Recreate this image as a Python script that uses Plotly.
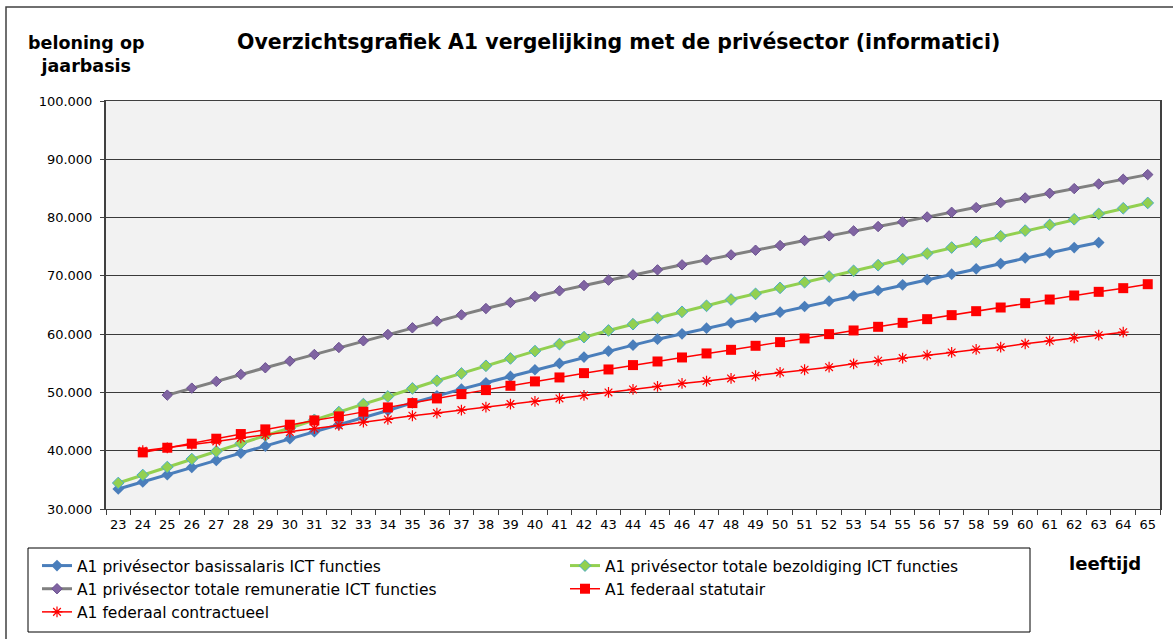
import plotly.graph_objects as go

# leeftijd (age) categories on the x-axis
ages = [str(a) for a in range(23, 66)]

# yearly pay, per series (None = no point at that age)
basissalaris = [33430, 34630, 35890, 37140, 38340, 39600, 40800, 42060, 43260,
                44500, 45700, 46900, 48200, 49430, 50570, 51660, 52740, 53890,
                54970, 56060, 57090, 58110, 59140, 60060, 61030, 61940, 62910,
                63770, 64740, 65660, 66570, 67490, 68460, 69370, 70290, 71200,
                72110, 73090, 73940, 74860, 75710, None, None]

bezoldiging = [34460, 35830, 37200, 38570, 39890, 41260, 42600, 43900, 45300,
               46630, 48000, 49310, 50690, 52000, 53260, 54570, 55830, 57090,
               58290, 59490, 60630, 61710, 62800, 63830, 64860, 65940, 66910,
               67940, 68910, 69890, 70860, 71830, 72860, 73830, 74860, 75830,
               76800, 77770, 78740, 79710, 80630, 81600, 82510]

remuneratie = [None, None, 49540, 50740, 51890, 53090, 54230, 55370, 56510,
               57710, 58860, 59940, 61090, 62230, 63310, 64400, 65430, 66460,
               67430, 68340, 69260, 70170, 71030, 71890, 72740, 73600, 74400,
               75200, 76060, 76860, 77710, 78460, 79260, 80110, 80910, 81710,
               82570, 83370, 84170, 84970, 85770, 86570, 87370]

statutair = [None, 39710, 40510, 41200, 42060, 42860, 43660, 44460, 45200,
             45890, 46690, 47430, 48170, 48970, 49710, 50400, 51140, 51890,
             52570, 53310, 53940, 54690, 55310, 56000, 56690, 57310, 58000,
             58630, 59260, 60000, 60630, 61260, 61940, 62570, 63260, 63940,
             64570, 65310, 65940, 66630, 67260, 67890, 68570]

contractueel = [None, 40000, 40500, 41100, 41600, 42200, 42700, 43200, 43800,
                44340, 44910, 45370, 46000, 46460, 46970, 47490, 48000, 48460,
                48970, 49490, 50000, 50510, 51030, 51540, 51940, 52400, 52860,
                53430, 53890, 54340, 54910, 55430, 55890, 56400, 56860, 57370,
                57770, 58340, 58860, 59370, 59830, 60340, None]

W, H = 1173, 639
L, R, T, B = 106, 13, 101, 130
PW, PH = W - L - R, H - T - B


# pixel position -> paper coordinates
def px(x):
    return (x - L) / PW


def py(y):
    return (H - B - y) / PH


fig = go.Figure()

fig.add_trace(go.Scatter(
    x=ages, y=basissalaris, mode='lines+markers',
    name='A1 privésector basissalaris ICT functies',
    line=dict(color='#4a7ebb', width=3),
    marker=dict(symbol='diamond', size=9, color='#4a7ebb'),
))
fig.add_trace(go.Scatter(
    x=ages, y=bezoldiging, mode='lines+markers',
    name='A1 privésector totale bezoldiging ICT functies',
    line=dict(color='#92d050', width=3),
    marker=dict(symbol='diamond', size=9, color='#92d050',
                line=dict(color='#4bacc6', width=1)),
))
fig.add_trace(go.Scatter(
    x=ages, y=remuneratie, mode='lines+markers',
    name='A1 privésector totale remuneratie ICT functies',
    line=dict(color='#808080', width=3),
    marker=dict(symbol='diamond', size=8, color='#8064a2',
                line=dict(color='#6a5090', width=1)),
))
fig.add_trace(go.Scatter(
    x=ages, y=statutair, mode='lines+markers',
    name='A1 federaal statutair',
    line=dict(color='#ff0000', width=1.5),
    marker=dict(symbol='square', size=10, color='#ff0000'),
))
fig.add_trace(go.Scatter(
    x=ages, y=contractueel, mode='lines+markers',
    name='A1 federaal contractueel',
    line=dict(color='#ff0000', width=1.5),
    marker=dict(symbol='asterisk-open', size=9, color='#ff0000',
                line=dict(color='#ff0000', width=1.2)),
))

fig.update_layout(
    width=W, height=H,
    margin=dict(l=L, r=R, t=T, b=B, autoexpand=False),
    paper_bgcolor='white',
    plot_bgcolor='#f2f2f2',
    separators=',.',
    font=dict(family='DejaVu Sans', color='black'),
    showlegend=True,
    legend=dict(
        orientation='h',
        x=px(37), y=py(549), xanchor='left', yanchor='top',
        entrywidth=483,
        font=dict(size=15.5, family='DejaVu Sans'),
        bgcolor='rgba(0,0,0,0)',
        borderwidth=0,
        traceorder='normal',
    ),
    xaxis=dict(
        type='category',
        range=[-0.5, len(ages) - 0.5],
        autorange=False,
        tickfont=dict(size=13),
        tickangle=0,
        ticks='outside', ticklen=5, tickson='boundaries',
        tickcolor='#404040',
        ticklabelstandoff=3,
        showline=True, linecolor='#404040', linewidth=1, mirror=True,
        showgrid=False,
        fixedrange=True,
    ),
    yaxis=dict(
        range=[30000, 100000], dtick=10000,
        autorange=False,
        tickformat=',d',
        tickfont=dict(size=13),
        ticks='outside', ticklen=4, tickcolor='#404040',
        ticklabelstandoff=5,
        showline=True, linecolor='#404040', linewidth=2, mirror=True,
        showgrid=True, gridcolor='#3a3a3a', gridwidth=1,
        zeroline=False,
    ),
    annotations=[
        dict(text='<b>Overzichtsgrafiek A1 vergelijking met de privésector (informatici)</b>',
             xref='paper', yref='paper', x=px(618), y=py(42),
             xanchor='center', yanchor='middle', showarrow=False,
             font=dict(size=20.5)),
        dict(text='<b>beloning op<br>jaarbasis</b>',
             xref='paper', yref='paper', x=px(86), y=py(55),
             xanchor='center', yanchor='middle', showarrow=False,
             font=dict(size=17.5)),
        dict(text='<b>leeftijd</b>',
             xref='paper', yref='paper', x=px(1105), y=py(563),
             xanchor='center', yanchor='middle', showarrow=False,
             font=dict(size=18)),
    ],
    shapes=[
        # outer chart border
        dict(type='rect', xref='paper', yref='paper',
             x0=px(6), x1=px(1190), y0=py(660), y1=py(7),
             line=dict(color='#404040', width=1.5), layer='below'),
        # legend box
        dict(type='rect', xref='paper', yref='paper',
             x0=px(28), x1=px(1030), y0=py(632), y1=py(548),
             line=dict(color='black', width=1)),
    ],
)

# the page's default body margin would push the chart 8px off its place
fig.write_html("out.html", config={'displayModeBar': False},
               post_script="document.body.style.margin='0px';")
